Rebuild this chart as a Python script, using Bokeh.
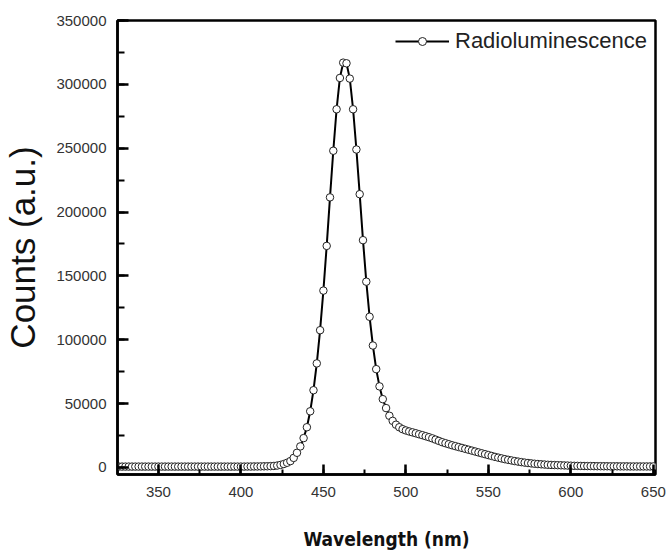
from bokeh.plotting import figure
from bokeh.models import Range1d, SingleIntervalTicker, BasicTickFormatter, ColumnDataSource
from bokeh.embed import file_html
from bokeh.resources import INLINE

# Wavelength grid (nm), 2 nm sampling
wavelength = list(range(326, 652, 2))

counts = [
    # 326 - 402
    700, 700, 700, 700, 700, 700, 700, 700, 700, 700,
    700, 700, 700, 700, 700, 700, 700, 700, 700, 700,
    700, 700, 700, 700, 700, 700, 700, 700, 700, 700,
    700, 700, 700, 700, 700, 700, 700, 700, 700,
    # 404 - 440
    750, 750, 800, 800, 850, 900, 950, 1050, 1200, 1500,
    2000, 2700, 3700, 5000, 7500, 11500, 16500, 23000, 31500,
    # 442 - 488
    44000, 60500, 81500, 107500, 138500, 173500, 211500, 248000, 280500, 305000,
    317000, 316500, 304500, 280500, 249000, 214000, 178000, 145500, 118000, 95500,
    77000, 63500, 53500, 46500,
    # 490 - 540
    40500, 36500, 33500, 31500, 30000, 29000, 28200, 27500, 26800, 26000,
    25300, 24500, 23700, 22800, 21800, 20800, 19800, 19000, 18200, 17400,
    16700, 16000, 15300, 14600, 13900, 13200,
    # 542 - 600
    12500, 11800, 11100, 10400, 9700, 9000, 8300, 7700, 7100, 6500,
    6000, 5500, 5000, 4600, 4200, 3800, 3500, 3200, 2900, 2700,
    2500, 2300, 2100, 2000, 1900, 1800, 1700, 1600, 1500, 1400,
    # 602 - 650
    1300, 1250, 1200, 1150, 1100, 1100, 1050, 1000, 1000, 950,
    950, 900, 900, 900, 850, 850, 850, 800, 800, 800,
    800, 800, 800, 800, 800,
]

series_name = "Radioluminescence"
x_title = "Wavelength (nm)"
y_title = "Counts (a.u.)"

src = ColumnDataSource(dict(x=wavelength, y=counts))

p = figure(width=667, height=555, output_backend="svg", toolbar_location=None,
           x_range=Range1d(325.2, 651.3), y_range=Range1d(-5500, 350000),
           min_border_left=117, min_border_right=12, min_border_top=20, min_border_bottom=81)
p.background_fill_color = "white"
p.border_fill_color = "white"
p.outline_line_color = "black"
p.outline_line_width = 2.5
p.xgrid.visible = False
p.ygrid.visible = False

p.line("x", "y", source=src, line_color="black", line_width=2, legend_label=series_name)
p.scatter("x", "y", source=src, size=7.5, marker="circle", fill_color="white",
          line_color="#222222", line_width=1, legend_label=series_name)

for ax in (p.xaxis[0], p.yaxis[0]):
    ax.axis_line_width = 2.5
    ax.axis_line_color = "black"
    ax.major_tick_line_width = 2.5
    ax.minor_tick_line_width = 2
    ax.major_tick_line_color = "black"
    ax.minor_tick_line_color = "black"
    ax.major_tick_out = 0
    ax.minor_tick_out = 0
    ax.major_label_text_font = "Liberation Sans"
    ax.major_label_text_font_size = "15px"
    ax.major_label_text_color = "#333333"

p.xaxis.ticker = SingleIntervalTicker(interval=50, num_minor_ticks=2)
p.yaxis.ticker = SingleIntervalTicker(interval=50000, num_minor_ticks=2)
p.yaxis.formatter = BasicTickFormatter(use_scientific=False)
p.xaxis.major_tick_in = 10
p.xaxis.minor_tick_in = 5
p.yaxis.major_tick_in = 11
p.yaxis.minor_tick_in = 7
p.xaxis.major_label_standoff = 12
p.yaxis.major_label_standoff = 11

p.xaxis.axis_label = x_title
p.xaxis.axis_label_text_font = "DejaVu Sans Condensed"
p.xaxis.axis_label_text_font_style = "bold"
p.xaxis.axis_label_text_font_size = "19px"
p.xaxis.axis_label_text_color = "#111111"
p.xaxis.axis_label_standoff = 28

p.yaxis.axis_label = y_title
p.yaxis.axis_label_text_font = "Liberation Sans"
p.yaxis.axis_label_text_font_style = "normal"
p.yaxis.axis_label_text_font_size = "35px"
p.yaxis.axis_label_text_color = "#111111"
p.yaxis.axis_label_standoff = 11

lg = p.legend[0]
lg.location = "top_right"
lg.border_line_color = None
lg.background_fill_alpha = 0
lg.margin = 8
lg.padding = 10
lg.glyph_width = 54
lg.glyph_height = 20
lg.label_standoff = 6
lg.label_text_font = "Liberation Sans"
lg.label_text_font_size = "22px"
lg.label_text_color = "#222222"

open("out.html", "w").write(file_html(p, INLINE))
